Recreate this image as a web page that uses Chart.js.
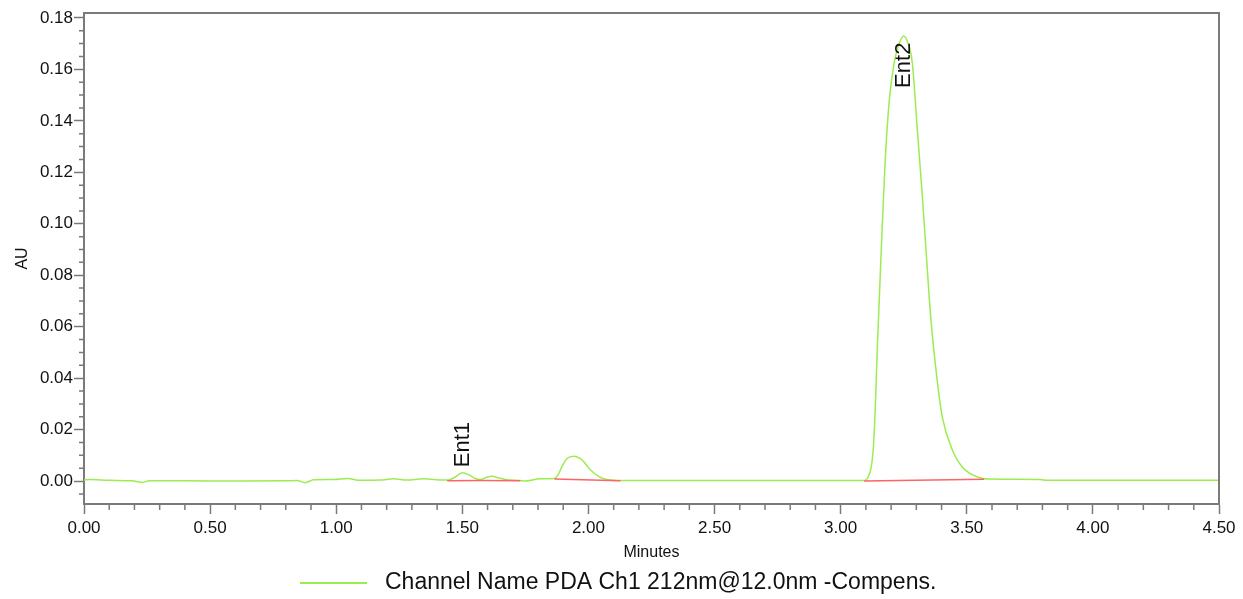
<!DOCTYPE html>
<html>
<head>
<meta charset="utf-8">
<script src="https://cdn.jsdelivr.net/npm/chart.js@4.4.1/dist/chart.umd.min.js"></script>
<style>
  html, body { margin: 0; padding: 0; background: #fff; }
  #wrap { width: 1243px; height: 599px; }
</style>
</head>
<body>
<div id="wrap"><canvas id="chromChart" width="1243" height="599"></canvas></div>
<script>
// retention time (min) and absorbance (AU)
let minutes = [0.00, 0.024, 0.10, 0.19, 0.229, 0.26, 0.40, 0.60, 0.80, 0.845, 0.877, 0.91, 0.99, 1.045, 1.095, 1.175, 1.228, 1.28, 1.346, 1.426,
  1.445, 1.47, 1.50, 1.525, 1.552, 1.571, 1.595, 1.615, 1.645, 1.677, 1.73, 1.745, 1.81, 1.865,
  1.88, 1.895, 1.915, 1.942, 1.975, 2.008, 2.048, 2.08, 2.114, 2.5, 3.0, 3.085,
  3.099, 3.110, 3.121, 3.129, 3.137, 3.145, 3.161, 3.176, 3.194, 3.212, 3.23, 3.249, 3.265, 3.284, 3.304, 3.324, 3.341, 3.357, 3.384, 3.403, 3.443, 3.483, 3.542, 3.595,
  3.79, 3.82, 4.5];
let au = [0.0004, 0.0006, 0.0003, 0.0001, -0.0005, 0.0001, 0.0001, 0.0000, 0.0001, 0.0002, -0.0006, 0.0005, 0.0006, 0.0010, 0.0003, 0.0004, 0.0009, 0.0004, 0.0009, 0.0004,
  0.0004, 0.0015, 0.0032, 0.0025, 0.0010, 0.0006, 0.0014, 0.0019, 0.0012, 0.0005, 0.0002, 0.0000, 0.0009, 0.0010,
  0.0025, 0.0056, 0.0088, 0.0097, 0.0082, 0.0043, 0.0014, 0.0005, 0.0002, 0.0002, 0.0002, 0.0002,
  0.0004, 0.0018, 0.0054, 0.0121, 0.0280, 0.0509, 0.0898, 0.1236, 0.1493, 0.1625, 0.1695, 0.1730, 0.1707, 0.1625, 0.1365, 0.1104, 0.0859, 0.0638, 0.0381, 0.0249, 0.0121, 0.0054, 0.0016, 0.0008,
  0.0006, 0.0003, 0.0003];

// integration baselines (red)
let base1 = [[1.44, 0.0001], [1.571, 0.0002], [1.73, 0.0001]];
let base2 = [[1.865, 0.0008], [2.127, 0.0001]];
let base3 = [[3.093, 0.0000], [3.569, 0.0007]];

// peak names and where their labels sit
let peakNames = ['Ent1', 'Ent2'];
let peakLabelAt = [[1.499, 0.0054], [3.246, 0.1528]];

let xTicks = [0, 0.5, 1, 1.5, 2, 2.5, 3, 3.5, 4, 4.5];
let yTicks = [0, 0.02, 0.04, 0.06, 0.08, 0.10, 0.12, 0.14, 0.16, 0.18];

let legendText = 'Channel Name PDA Ch1 212nm@12.0nm -Compens.';

let green = 'rgb(156, 236, 80)';
let red = 'rgb(255, 100, 100)';
let axisGray = '#7a7a7a';
let font = "'Liberation Sans', Arial, sans-serif";

let trace = minutes.map((t, i) => ({ x: t, y: au[i] }));
let toPts = arr => arr.map(p => ({ x: p[0], y: p[1] }));

let extras = {
  id: 'extras',
  afterDraw(chart) {
    let c = chart.ctx;
    let area = chart.chartArea;
    let xs = chart.scales.x, ys = chart.scales.y;

    // frame top and right
    c.save();
    c.strokeStyle = axisGray;
    c.lineWidth = 2;
    c.beginPath();
    c.moveTo(area.left, area.top);
    c.lineTo(area.right, area.top);
    c.lineTo(area.right, area.bottom);
    c.stroke();

    // minor ticks
    c.lineWidth = 1.5;
    c.beginPath();
    for (let k = -1; k <= 36; k++) {
      if (k % 4 === 0) continue;
      let py = ys.getPixelForValue(k * 0.005);
      if (py < area.top || py > area.bottom) continue;
      c.moveTo(area.left - 5, py);
      c.lineTo(area.left, py);
    }
    for (let k = 0; k <= 45; k++) {
      if (k % 5 === 0) continue;
      let px = xs.getPixelForValue(k * 0.1);
      c.moveTo(px, area.bottom);
      c.lineTo(px, area.bottom + 6);
    }
    c.stroke();

    // peak labels
    c.fillStyle = '#111';
    c.font = '22px ' + font;
    c.textAlign = 'left';
    c.textBaseline = 'middle';
    peakNames.forEach((name, i) => {
      let px = xs.getPixelForValue(peakLabelAt[i][0]);
      let py = ys.getPixelForValue(peakLabelAt[i][1]);
      c.save();
      c.translate(px, py);
      c.rotate(-Math.PI / 2);
      c.fillText(name, 0, 1);
      c.restore();
    });

    // legend
    c.strokeStyle = green;
    c.lineWidth = 2;
    c.beginPath();
    c.moveTo(300, 583);
    c.lineTo(367, 583);
    c.stroke();
    c.font = '23px ' + font;
    c.fillText(legendText, 385, 583);
    c.restore();
  }
};

let ctx = document.getElementById('chromChart').getContext('2d');

let chromChart = new Chart(ctx, {
  type: 'line',
  data: {
    datasets: [
      { label: 'trace', data: trace, borderColor: green, borderWidth: 1.5, pointRadius: 0, cubicInterpolationMode: 'monotone', order: 2 },
      { label: 'b1', data: toPts(base1), borderColor: red, borderWidth: 1.5, pointRadius: 0, tension: 0, order: 1 },
      { label: 'b2', data: toPts(base2), borderColor: red, borderWidth: 1.5, pointRadius: 0, tension: 0, order: 1 },
      { label: 'b3', data: toPts(base3), borderColor: red, borderWidth: 1.5, pointRadius: 0, tension: 0, order: 1 }
    ]
  },
  options: {
    responsive: false,
    animation: false,
    layout: { padding: { left: 0, right: 24, top: 13, bottom: 35 } },
    plugins: {
      legend: { display: false },
      tooltip: { enabled: false }
    },
    scales: {
      x: {
        type: 'linear',
        min: 0,
        max: 4.5,
        afterBuildTicks: s => { s.ticks = xTicks.map(v => ({ value: v })); },
        afterFit: s => { s.height = 60; },
        border: { display: true, color: axisGray, width: 2 },
        grid: { drawOnChartArea: false, drawTicks: true, tickLength: 10, tickColor: axisGray, tickWidth: 1.5 },
        ticks: {
          color: '#111',
          padding: 4,
          maxRotation: 0,
          font: { family: font, size: 17 },
          callback: v => Number(v).toFixed(2)
        },
        title: { display: true, text: 'Minutes', color: '#111', font: { family: font, size: 16 }, padding: { top: 2, bottom: 2 } }
      },
      y: {
        type: 'linear',
        min: -0.0089,
        max: 0.1819,
        afterBuildTicks: s => { s.ticks = yTicks.map(v => ({ value: v })); },
        afterFit: s => { s.width = 84; },
        border: { display: true, color: axisGray, width: 2 },
        grid: { drawOnChartArea: false, drawTicks: true, tickLength: 10, tickColor: axisGray, tickWidth: 1.5 },
        ticks: {
          color: '#111',
          padding: 1,
          font: { family: font, size: 17 },
          callback: v => Number(v).toFixed(2)
        },
        title: { display: true, text: 'AU', color: '#111', font: { family: font, size: 16 }, padding: { top: 13, bottom: 0 } }
      }
    }
  },
  plugins: [extras]
});
</script>
</body>
</html>
